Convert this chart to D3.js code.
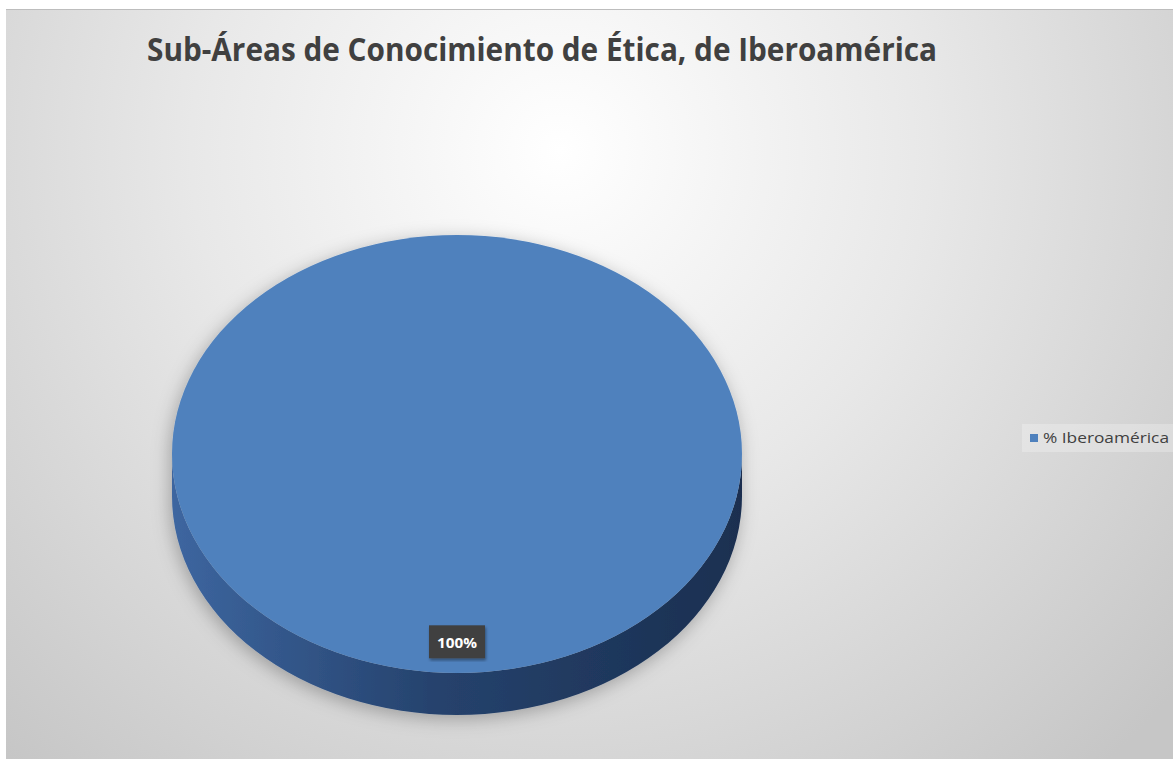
<!DOCTYPE html>
<html>
<head>
<meta charset="utf-8">
<script src="https://cdn.jsdelivr.net/npm/d3@7"></script>
<style>
  body { margin:0; background:#fff; }
  svg { display:block; }
</style>
</head>
<body>
<svg id="viz" width="1173" height="759"></svg>
<script>
const TITLE = "Sub-Áreas de Conocimiento de Ética, de Iberoamérica"
const categories = ["% Iberoamérica"]
const values = [100]
const labels = ["100%"]

const svg = d3.select("svg#viz")
const width = +svg.attr('width')
const height = +svg.attr('height')

const defs = svg.append('defs')

// background: radial white -> light gray
const bg = defs.append('radialGradient').attr('id', 'bg')
    .attr('gradientUnits', 'userSpaceOnUse')
    .attr('cx', 560).attr('cy', 150).attr('r', 820)
bg.append('stop').attr('offset', '0%').attr('stop-color', '#ffffff')
bg.append('stop').attr('offset', '45%').attr('stop-color', '#e8e8e8')
bg.append('stop').attr('offset', '100%').attr('stop-color', '#c6c6c6')

const side = defs.append('linearGradient').attr('id', 'side')
    .attr('x1', '0%').attr('x2', '100%').attr('y1', '0%').attr('y2', '0%')
side.append('stop').attr('offset', '0%').attr('stop-color', '#3d66a0')
side.append('stop').attr('offset', '45%').attr('stop-color', '#26436e')
side.append('stop').attr('offset', '100%').attr('stop-color', '#1a2f50')

const shadow = defs.append('filter').attr('id', 'shadow')
    .attr('x', '-20%').attr('y', '-20%').attr('width', '140%').attr('height', '140%')
shadow.append('feDropShadow').attr('dx', -2).attr('dy', 4).attr('stdDeviation', 9)
    .attr('flood-color', '#000').attr('flood-opacity', 0.28)

const lblShadow = defs.append('filter').attr('id', 'lblShadow')
lblShadow.append('feDropShadow').attr('dx', 1).attr('dy', 2).attr('stdDeviation', 1.5)
    .attr('flood-color', '#000').attr('flood-opacity', 0.4)

svg.append('rect').attr('x', 6).attr('y', 9).attr('width', width - 6).attr('height', height - 9)
    .attr('fill', 'url(#bg)')
svg.append('line').attr('x1', 6).attr('x2', width).attr('y1', 9.5).attr('y2', 9.5)
    .attr('stroke', '#bdbdbd').attr('stroke-width', 1)

// title
svg.append('text')
    .attr('x', 147).attr('y', 61)
    .attr('font-family', 'Open Sans, sans-serif')
    .attr('font-weight', 'bold')
    .attr('font-size', 33)
    .attr('fill', '#404040')
    .attr('textLength', 790)
    .attr('lengthAdjust', 'spacingAndGlyphs')
    .text(TITLE)

// 3d pie
const cx = 457, cy = 454, rx = 285, ry = 219, depth = 42
const color = d3.scaleOrdinal().domain(categories).range(['#4f81bd'])

const pie = d3.pie().sort(null).value(d => d.value)
const arcs = pie(categories.map((c, i) => ({ name: c, value: values[i], label: labels[i] })))

const arc = d3.arc().innerRadius(0).outerRadius(rx)
const labelArc = d3.arc().innerRadius(rx * 0.86).outerRadius(rx * 0.86)

const pieG = svg.append('g').attr('filter', 'url(#shadow)')

// side wall (lower half of ellipse pushed down)
pieG.append('path')
    .attr('d', `M${cx - rx},${cy} A${rx},${ry} 0 0 0 ${cx + rx},${cy} L${cx + rx},${cy + depth} A${rx},${ry} 0 0 1 ${cx - rx},${cy + depth} Z`)
    .attr('fill', 'url(#side)')

pieG.append('g')
    .attr('transform', `translate(${cx},${cy}) scale(1,${ry / rx})`)
    .selectAll('path')
    .data(arcs)
    .join('path')
    .attr('d', arc)
    .attr('fill', d => color(d.data.name))

// data labels
const lab = svg.append('g').selectAll('g')
    .data(arcs)
    .join('g')
    .attr('transform', d => {
        const c = labelArc.centroid(d)
        return `translate(${cx + c[0]},${cy + c[1] * ry / rx})`
    })
lab.append('rect')
    .attr('x', -28).attr('y', -17).attr('width', 56).attr('height', 33)
    .attr('fill', '#404040')
    .attr('filter', 'url(#lblShadow)')
lab.append('text')
    .attr('text-anchor', 'middle')
    .attr('dy', '0.35em')
    .attr('font-family', 'Open Sans, sans-serif')
    .attr('font-weight', 'bold')
    .attr('font-size', 15)
    .attr('fill', '#ffffff')
    .attr('textLength', 40)
    .attr('lengthAdjust', 'spacingAndGlyphs')
    .text(d => d.data.label)

// legend
const legend = svg.append('g').attr('transform', 'translate(1022,424)')
legend.append('rect').attr('width', 151).attr('height', 28)
    .attr('fill', '#ffffff').attr('opacity', 0.25)
const item = legend.selectAll('g')
    .data(categories)
    .join('g')
    .attr('transform', (d, i) => `translate(8,${10 + i * 20})`)
item.append('rect').attr('width', 8).attr('height', 8).attr('fill', d => color(d))
item.append('text')
    .attr('x', 13).attr('y', 4).attr('dy', '0.35em')
    .attr('font-family', 'Open Sans, sans-serif')
    .attr('font-size', 14)
    .attr('fill', '#404040')
    .attr('textLength', 126)
    .attr('lengthAdjust', 'spacingAndGlyphs')
    .text(d => d)
</script>
</body>
</html>
